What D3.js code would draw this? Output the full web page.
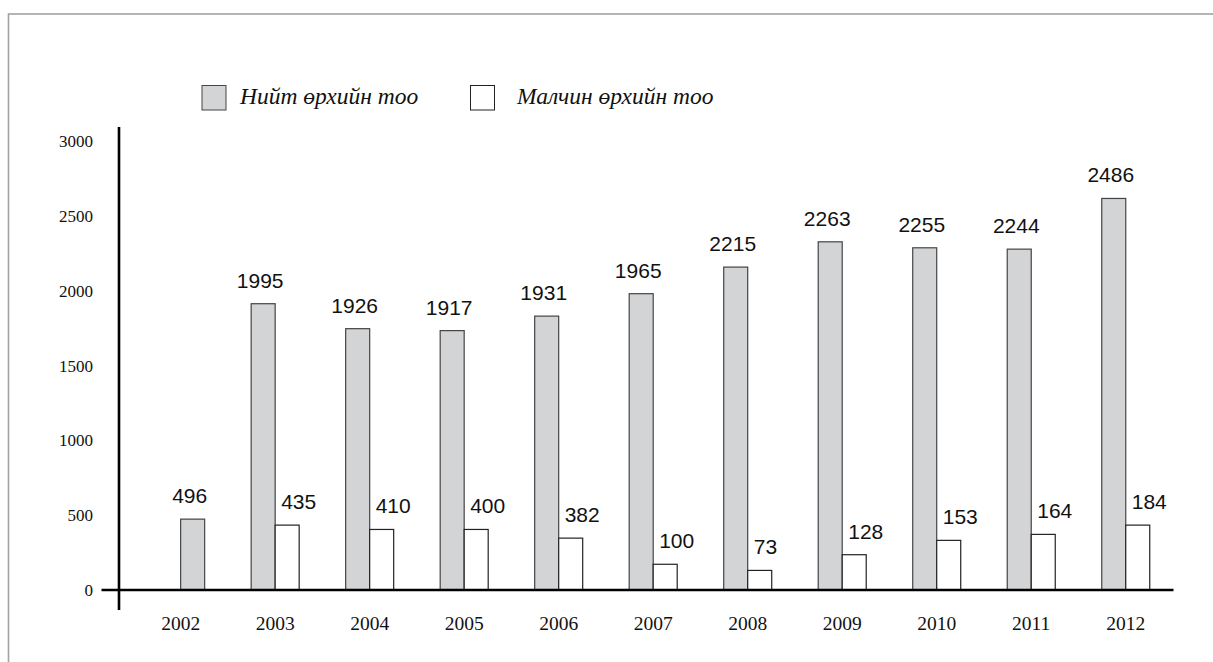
<!DOCTYPE html>
<html>
<head>
<meta charset="utf-8">
<script src="https://cdn.jsdelivr.net/npm/d3@7/dist/d3.min.js"></script>
<style>
  html, body { margin: 0; padding: 0; background: #fff; }
  svg { display: block; }
</style>
</head>
<body>
<svg id="chart" width="1213" height="662"></svg>
<script>
// ---- data ----
const years = ["2002","2003","2004","2005","2006","2007","2008","2009","2010","2011","2012"];
// bar heights as drawn in the picture
const totalBars  = [474, 1915, 1748, 1735, 1832, 1982, 2160, 2329, 2289, 2280, 2619];
const herderBars = [null, 434, 405, 405, 347, 172, 131, 236, 332, 372, 434];
// value labels printed above the bars
const totalLabels  = [496, 1995, 1926, 1917, 1931, 1965, 2215, 2263, 2255, 2244, 2486];
const herderLabels = [null, 435, 410, 400, 382, 100, 73, 128, 153, 164, 184];
const yTicks = [0, 500, 1000, 1500, 2000, 2500, 3000];
const seriesNames = ["Нийт өрхийн тоо", "Малчин өрхийн тоо"];
const seriesKeys = ["total", "herder"];

// ---- layout ----
const svg = d3.select("#chart");
const baseY = 590, topY = 141.5;
const x = d3.scaleBand().domain(years).range([133.4, 1173]).paddingInner(0.492).paddingOuter(0.246);
const xs = d3.scaleBand().domain(seriesKeys).range([0, x.bandwidth()]).padding(0);
const y = d3.scaleLinear().domain([0, 3000]).range([baseY, topY]);

const fills = { total: "#d3d4d6", herder: "#ffffff" };
const strokes = { total: "#444", herder: "#222" };

// frame
svg.append("rect").attr("x", 8.5).attr("y", 14).attr("width", 1230).attr("height", 700)
  .attr("fill", "none").attr("stroke", "#a3a3a3").attr("stroke-width", 1.6);

// legend
const legend = svg.append("g");
const legendPos = [{sx: 202, tx: 240}, {sx: 470.5, tx: 517}];
seriesKeys.forEach((k, i) => {
  legend.append("rect").attr("x", legendPos[i].sx).attr("y", 85.5).attr("width", 24).attr("height", 24.5)
    .attr("fill", fills[k]).attr("stroke", strokes[k]).attr("stroke-width", 1);
  legend.append("text").attr("x", legendPos[i].tx).attr("y", 104)
    .attr("font-family", "'Liberation Serif', 'Times New Roman', serif")
    .attr("font-style", "italic").attr("font-size", 23.5).attr("fill", "#111")
    .text(seriesNames[i]);
});

// bars
const rows = years.map((yr, i) => ({
  year: yr, total: totalBars[i], herder: herderBars[i],
  totalLabel: totalLabels[i], herderLabel: herderLabels[i]
}));

const barsG = svg.append("g");
rows.forEach(r => {
  const g = barsG.append("g").attr("transform", `translate(${x(r.year)},0)`);
  // when only one series exists, the bar sits in the second slot
  const totalSlot = r.herder == null ? "herder" : "total";
  g.append("rect").attr("x", xs(totalSlot)).attr("y", y(r.total))
    .attr("width", xs.bandwidth()).attr("height", baseY - y(r.total))
    .attr("fill", fills.total).attr("stroke", strokes.total).attr("stroke-width", 1.2);
  g.append("text").attr("x", xs(totalSlot) + xs.bandwidth() / 2 - 3).attr("y", y(r.total) - 16)
    .attr("text-anchor", "middle").attr("font-family", "'Liberation Sans', Arial, sans-serif")
    .attr("font-size", 21).attr("fill", "#111").text(r.totalLabel);
  if (r.herder != null) {
    g.append("rect").attr("x", xs("herder")).attr("y", y(r.herder))
      .attr("width", xs.bandwidth()).attr("height", baseY - y(r.herder))
      .attr("fill", fills.herder).attr("stroke", strokes.herder).attr("stroke-width", 1.2);
    g.append("text").attr("x", xs("herder") + 6).attr("y", y(r.herder) - 16)
      .attr("text-anchor", "start").attr("font-family", "'Liberation Sans', Arial, sans-serif")
      .attr("font-size", 21).attr("fill", "#111").text(r.herderLabel);
  }
});

// y axis
const yAxis = d3.axisLeft(y).tickValues(yTicks).tickSize(0).tickPadding(0).tickFormat(d3.format("d"));
const yg = svg.append("g").attr("transform", "translate(93,0)").call(yAxis);
yg.select(".domain").remove();
yg.selectAll("text").attr("font-family", "'Liberation Serif', 'Times New Roman', serif")
  .attr("font-size", 17).attr("fill", "#111");
svg.append("line").attr("x1", 119).attr("x2", 119).attr("y1", 127).attr("y2", 610)
  .attr("stroke", "#000").attr("stroke-width", 2.6);

// x axis
const xAxis = d3.axisBottom(x).tickSize(0).tickPadding(0);
const xg = svg.append("g").attr("transform", `translate(0,${baseY})`).call(xAxis);
xg.select(".domain").remove();
xg.selectAll("text").attr("font-family", "'Liberation Serif', 'Times New Roman', serif")
  .attr("font-size", 19.5).attr("fill", "#111").attr("dy", null).attr("y", 40);
svg.append("line").attr("x1", 101.5).attr("x2", 1173.5).attr("y1", baseY).attr("y2", baseY)
  .attr("stroke", "#000").attr("stroke-width", 2.6);
</script>
</body>
</html>
